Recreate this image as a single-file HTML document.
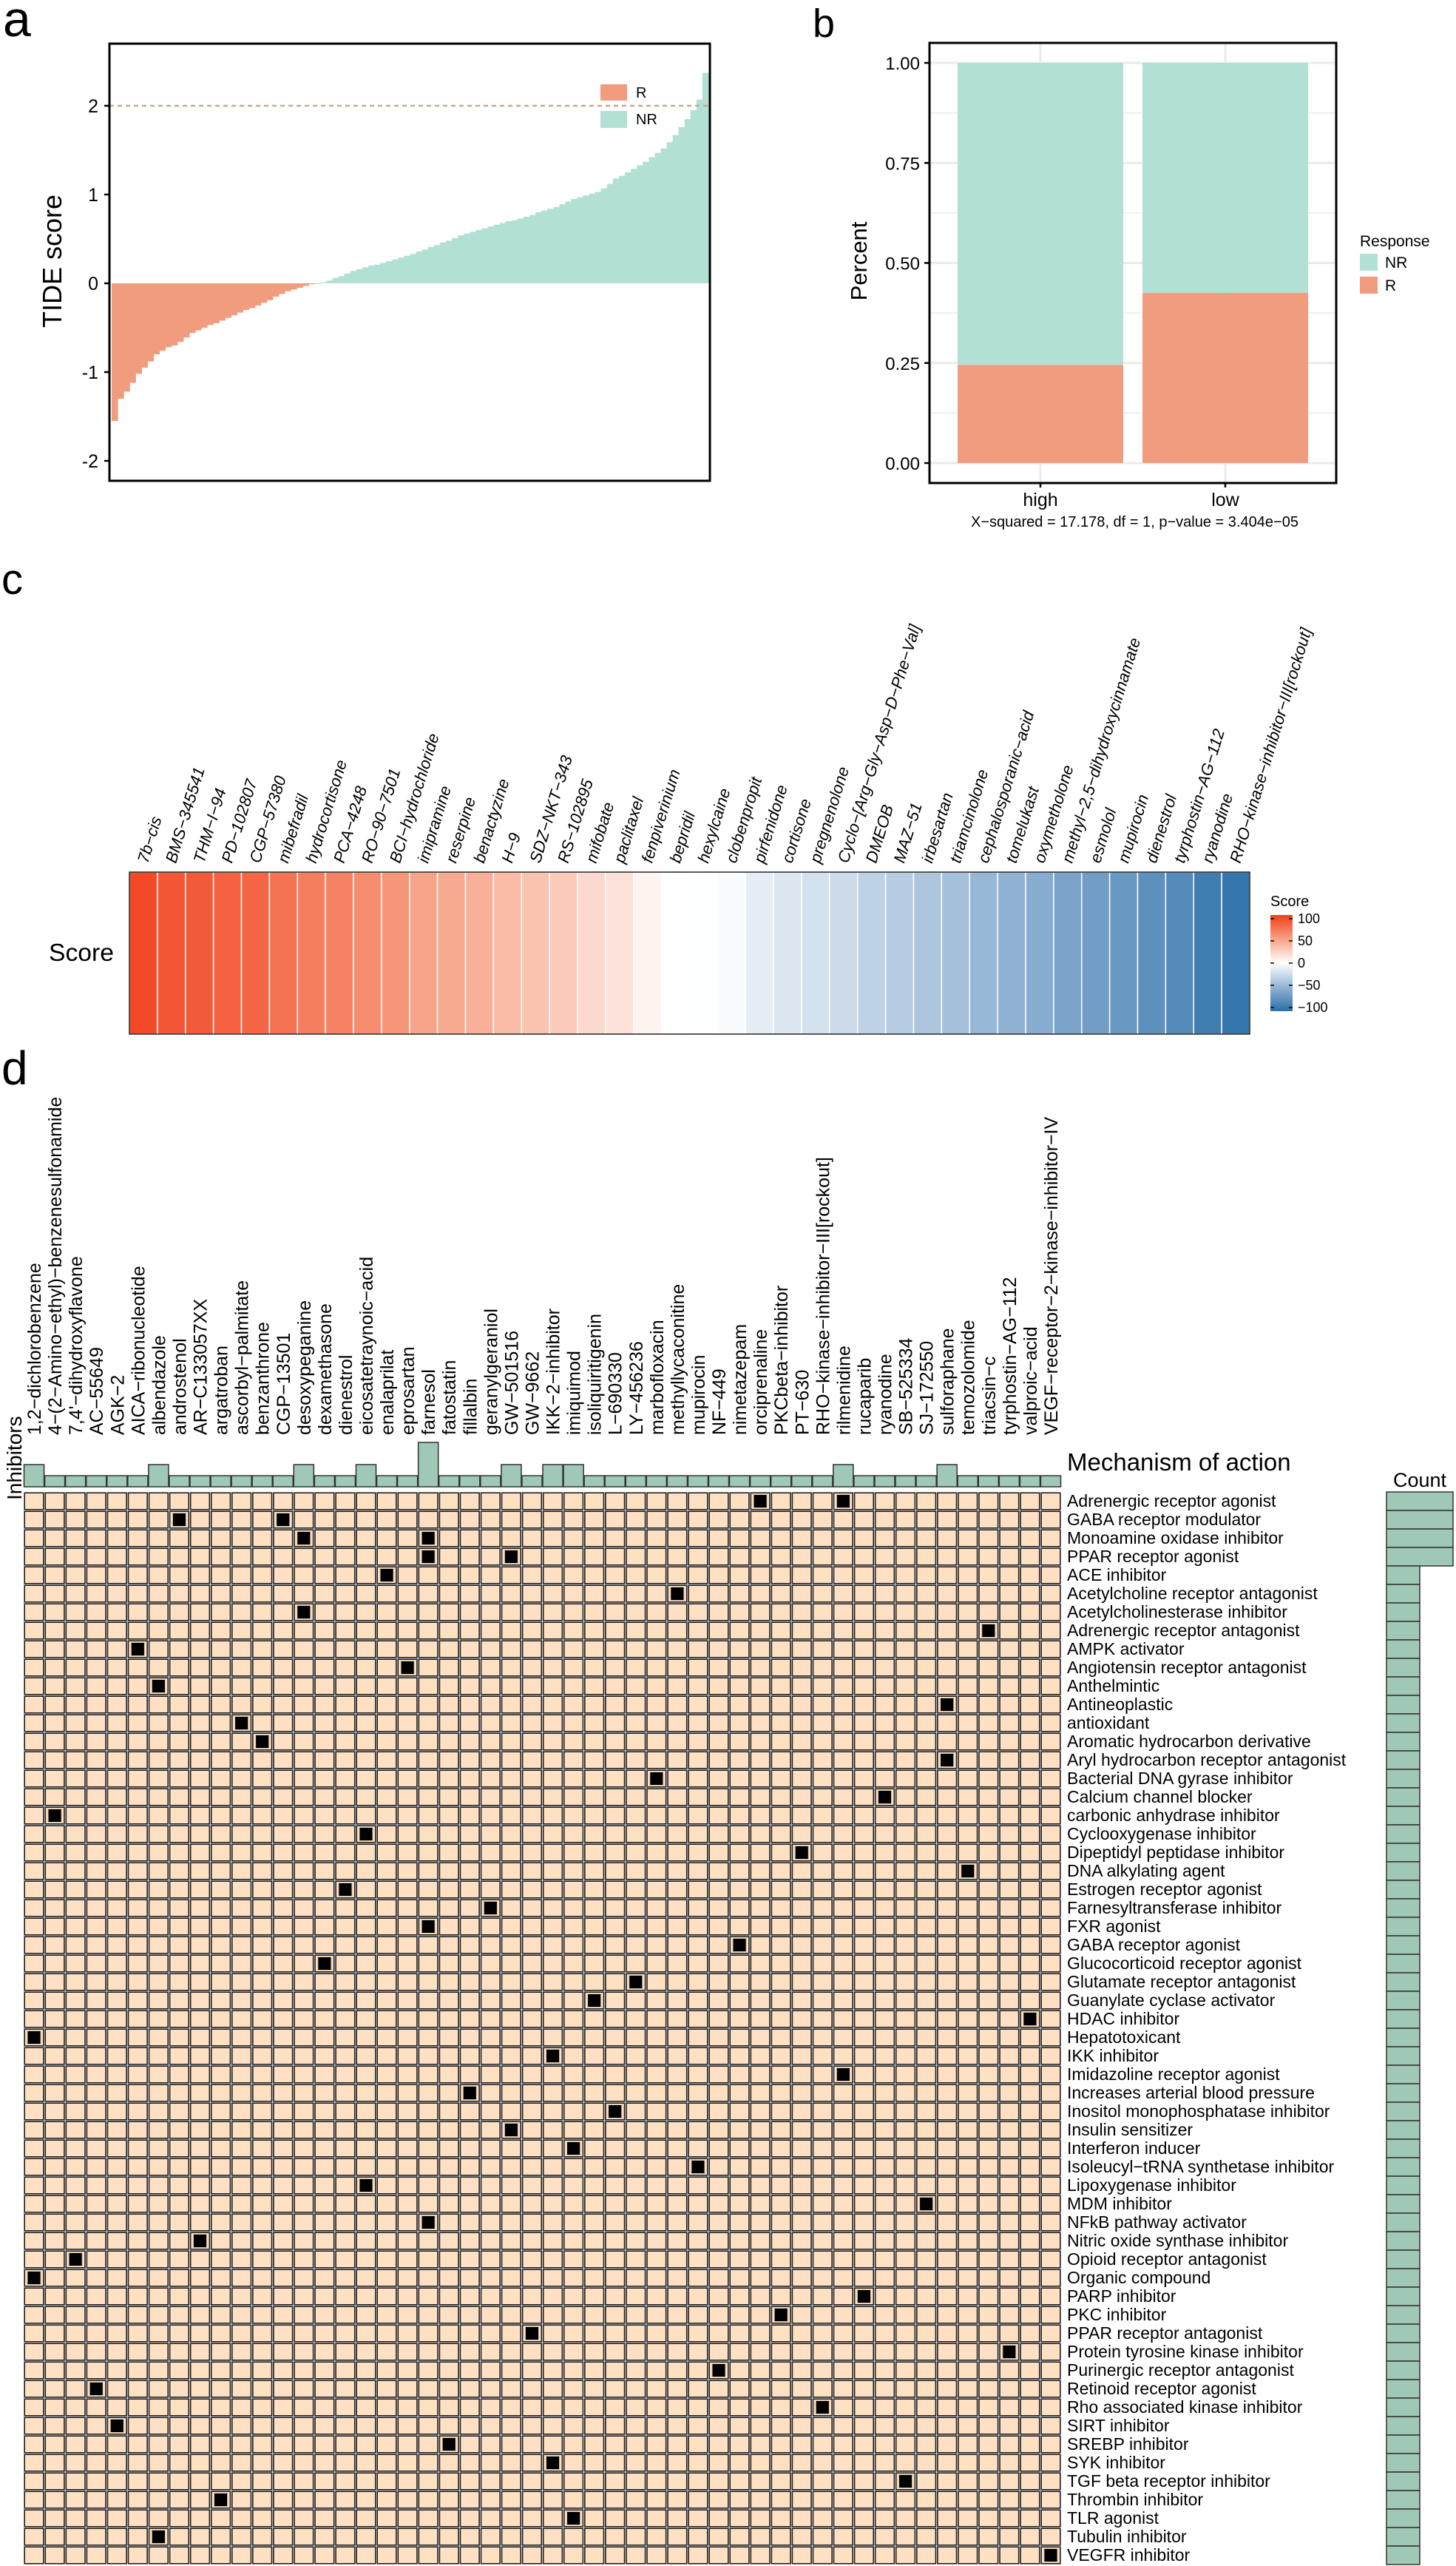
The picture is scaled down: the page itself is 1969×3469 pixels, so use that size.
<!DOCTYPE html>
<html>
<head>
<meta charset="utf-8">
<style>
body{margin:0;background:#fff}
svg{display:block;font-family:"Liberation Sans",Arial,sans-serif}
</style>
</head>
<body>
<svg id="fig" width="1969" height="3469" viewBox="0 0 1969 3469" xmlns="http://www.w3.org/2000/svg">
<rect width="1969" height="3469" fill="#ffffff"/>

<!-- Panel a -->
<g id="pa">
  <text x="4" y="49" font-size="68">a</text>
  <g id="pa-bars"></g>
  <g id="pa-ticks"></g>
  <line x1="148" x2="960" y1="143" y2="143" stroke="#C9A98B" stroke-width="2.5" stroke-dasharray="6,5"/>
  <rect x="148" y="59" width="812" height="591" fill="none" stroke="#000" stroke-width="3"/>
  <text transform="translate(83,353) rotate(-90)" text-anchor="middle" font-size="36">TIDE score</text>
  <g>
    <rect x="812" y="114" width="36" height="22" fill="#F19C7F"/>
    <text x="860" y="132" font-size="20">R</text>
    <rect x="812" y="150" width="36" height="23" fill="#B3E0D5"/>
    <text x="860" y="168" font-size="20">NR</text>
  </g>
</g>

<!-- Panel b -->
<g id="pb">
  <text x="1099" y="50" font-size="54">b</text>
  <g id="pb-grid"></g>
  <g id="pb-bars"></g>
  <g id="pb-ticks"></g>
  <rect x="1257" y="58" width="550" height="595" fill="none" stroke="#000" stroke-width="3"/>
  <text transform="translate(1172,353) rotate(-90)" text-anchor="middle" font-size="31">Percent</text>
  <text x="1313" y="712" font-size="20" textLength="443" lengthAdjust="spacingAndGlyphs">X−squared = 17.178, df = 1, p−value = 3.404e−05</text>
  <g>
    <text x="1839" y="333" font-size="21">Response</text>
    <rect x="1839" y="343" width="24" height="23" fill="#B3E0D5"/>
    <text x="1873" y="362" font-size="21">NR</text>
    <rect x="1839" y="374" width="24" height="23" fill="#F19C7F"/>
    <text x="1873" y="393" font-size="21">R</text>
  </g>
</g>

<!-- Panel c -->
<g id="pc">
  <text x="2" y="803" font-size="58">c</text>
  <g id="pc-labels"></g>
  <g id="pc-cells"></g>
  <rect x="175" y="1179" width="1515" height="219" fill="none" stroke="#222" stroke-width="1.5"/>
  <text x="66" y="1299" font-size="33" textLength="88" lengthAdjust="spacingAndGlyphs">Score</text>
  <g>
    <defs>
      <linearGradient id="cbg" x1="0" y1="0" x2="0" y2="1">
        <stop offset="0" stop-color="#F23F1C"/>
        <stop offset="0.25" stop-color="#F7A184"/>
        <stop offset="0.5" stop-color="#FFFFFF"/>
        <stop offset="0.75" stop-color="#93B4D4"/>
        <stop offset="1" stop-color="#2B6FA8"/>
      </linearGradient>
    </defs>
    <text x="1718" y="1225" font-size="20">Score</text>
    <rect x="1718" y="1237" width="30" height="130" fill="url(#cbg)"/>
    <g id="pc-cbticks"></g>
  </g>
</g>

<!-- Panel d -->
<g id="pd">
  <text x="2" y="1466" font-size="64">d</text>
  <text transform="translate(29,2028) rotate(-90)" font-size="28">Inhibitors</text>
  <g id="pd-collabels"></g>
  <g id="pd-annot"></g>
  <g id="pd-grid"></g>
  <g id="pd-rowlabels"></g>
  <g id="pd-count"></g>
  <text x="1443" y="1988" font-size="33">Mechanism of action</text>
  <text x="1920" y="2010" font-size="27" text-anchor="middle">Count</text>
</g>
</svg>

<script>
// ===== Panel a data =====
const tideScores = [-1.55,-1.30,-1.22,-1.12,-1.02,-0.95,-0.88,-0.80,-0.76,-0.72,
-0.70,-0.66,-0.61,-0.56,-0.53,-0.50,-0.47,-0.45,-0.42,-0.39,
-0.36,-0.33,-0.30,-0.28,-0.25,-0.22,-0.19,-0.15,-0.12,-0.09,
-0.07,-0.05,-0.03,-0.01,-0.005,0.01,0.03,0.06,0.08,0.11,
0.14,0.16,0.18,0.20,0.21,0.23,0.25,0.27,0.29,0.31,
0.33,0.36,0.38,0.41,0.43,0.46,0.48,0.51,0.54,0.56,
0.58,0.60,0.62,0.64,0.66,0.68,0.70,0.71,0.73,0.75,
0.77,0.80,0.82,0.84,0.86,0.89,0.92,0.95,0.97,0.99,
1.01,1.03,1.07,1.12,1.18,1.21,1.25,1.29,1.33,1.37,
1.42,1.47,1.52,1.59,1.67,1.76,1.85,1.95,2.07,2.37];
const tideTicks = [2,1,0,-1,-2];
const tideTickLabels = ["2","1","0","-1","-2"];

// ===== Panel b data =====
const groupCategories = ["high","low"];
const rFraction = [0.245,0.425];
const pctTicks = [0,0.25,0.5,0.75,1];
const pctTickLabels = ["0.00","0.25","0.50","0.75","1.00"];

// ===== Panel c data =====
const drugNames = ["7b−cis","BMS−345541","THM−I−94","PD−102807","CGP−57380","mibefradil","hydrocortisone","PCA−4248","RO−90−7501","BCI−hydrochloride","imipramine","reserpine","benactyzine","H−9","SDZ−NKT−343","RS−102895","mifobate","paclitaxel","fenpiverinium","bepridil","hexylcaine","clobenpropit","pirfenidone","cortisone","pregnenolone","Cyclo−[Arg−Gly−Asp−D−Phe−Val]","DMEOB","MAZ−51","irbesartan","triamcinolone","cephalosporanic−acid","tomelukast","oxymetholone","methyl−2,5−dihydroxycinnamate","esmolol","mupirocin","dienestrol","tyrphostin−AG−112","ryanodine","RHO−kinase−inhibitor−III[rockout]"];
const drugScores = [95,88,86,82,80,74,68,66,60,56,48,45,42,36,32,28,20,16,6,0,-1,-3,-12,-16,-20,-24,-30,-34,-38,-42,-48,-52,-56,-62,-66,-70,-76,-80,-90,-95];
const scoreTicks = [100,50,0,-50,-100];
const scoreTickLabels = ["100","50","0","−50","−100"];

// ===== Panel d data =====
const inhibitors = ["1,2−dichlorobenzene","4−(2−Amino−ethyl)−benzenesulfonamide","7,4'−dihydroxyflavone","AC−55649","AGK−2","AICA−ribonucleotide","albendazole","androstenol","AR−C133057XX","argatroban","ascorbyl−palmitate","benzanthrone","CGP−13501","desoxypeganine","dexamethasone","dienestrol","eicosatetraynoic−acid","enalaprilat","eprosartan","farnesol","fatostatin","fillalbin","geranylgeraniol","GW−501516","GW−9662","IKK−2−inhibitor","imiquimod","isoliquiritigenin","L−690330","LY−456236","marbofloxacin","methyllycaconitine","mupirocin","NF−449","nimetazepam","orciprenaline","PKCbeta−inhibitor","PT−630","RHO−kinase−inhibitor−III[rockout]","rilmenidine","rucaparib","ryanodine","SB−525334","SJ−172550","sulforaphane","temozolomide","triacsin−c","tyrphostin−AG−112","valproic−acid","VEGF−receptor−2−kinase−inhibitor−IV"];
const mechanisms = ["Adrenergic receptor agonist","GABA receptor modulator","Monoamine oxidase inhibitor","PPAR receptor agonist","ACE inhibitor","Acetylcholine receptor antagonist","Acetylcholinesterase inhibitor","Adrenergic receptor antagonist","AMPK activator","Angiotensin receptor antagonist","Anthelmintic","Antineoplastic","antioxidant","Aromatic hydrocarbon derivative","Aryl hydrocarbon receptor antagonist","Bacterial DNA gyrase inhibitor","Calcium channel blocker","carbonic anhydrase inhibitor","Cyclooxygenase inhibitor","Dipeptidyl peptidase inhibitor","DNA alkylating agent","Estrogen receptor agonist","Farnesyltransferase inhibitor","FXR agonist","GABA receptor agonist","Glucocorticoid receptor agonist","Glutamate receptor antagonist","Guanylate cyclase activator","HDAC inhibitor","Hepatotoxicant","IKK inhibitor","Imidazoline receptor agonist","Increases arterial blood pressure","Inositol monophosphatase inhibitor","Insulin sensitizer","Interferon inducer","Isoleucyl−tRNA synthetase inhibitor","Lipoxygenase inhibitor","MDM inhibitor","NFkB pathway activator","Nitric oxide synthase inhibitor","Opioid receptor antagonist","Organic compound","PARP inhibitor","PKC inhibitor","PPAR receptor antagonist","Protein tyrosine kinase inhibitor","Purinergic receptor antagonist","Retinoid receptor agonist","Rho associated kinase inhibitor","SIRT inhibitor","SREBP inhibitor","SYK inhibitor","TGF beta receptor inhibitor","Thrombin inhibitor","TLR agonist","Tubulin inhibitor","VEGFR inhibitor"];
const hitRow = [0,0,1,1,2,2,3,3,4,5,6,7,8,9,10,11,12,13,14,15,16,17,18,19,20,21,22,23,24,25,26,27,28,29,30,31,32,33,34,35,36,37,38,39,40,41,42,43,44,45,46,47,48,49,50,51,52,53,54,55,56,57];
const hitCol = [35,39,7,12,13,19,19,23,17,31,13,46,5,18,6,44,10,11,44,30,41,1,16,37,45,15,22,19,34,14,29,27,48,0,25,39,21,28,23,26,32,16,43,19,8,2,0,40,36,24,47,33,3,38,4,20,25,42,9,26,6,49];

const NS = "http://www.w3.org/2000/svg";
function mk(tag, attrs, parent){
  const e = document.createElementNS(NS, tag);
  for (const k in attrs) e.setAttribute(k, attrs[k]);
  if (parent) parent.appendChild(e);
  return e;
}
const $ = id => document.getElementById(id);

// ----- Panel a -----
const aX0 = 151, aX1 = 958;
const ya = v => 383 - v * 120;
const aBw = (aX1 - aX0) / tideScores.length;
tideScores.forEach((v, i) => {
  const y0 = ya(0), y1 = ya(v);
  const r = mk("rect", {x: aX0 + i * aBw, y: Math.min(y0, y1), width: aBw + 0.6, height: Math.abs(y1 - y0), fill: v < 0 ? "#F19C7F" : "#B3E0D5"}, $("pa-bars"));
  
  
});
tideTicks.forEach((t, i) => {
  const l = mk("line", {x1: 141, x2: 148, y1: ya(t), y2: ya(t), stroke: "#000", "stroke-width": 2.5}, $("pa-ticks"));
  
  
  const tx = mk("text", {x: 133, y: ya(t) + 9, "font-size": 25, "text-anchor": "end"}, $("pa-ticks"));
  tx.textContent = tideTickLabels[i];
  
  
});

// ----- Panel b -----
const yb = p => 626 - p * 541;
const bCenters = [1407, 1657];
const bW = 224;
[0.125,0.375,0.625,0.875].forEach(p => {
  const g = mk("line", {x1: 1258, x2: 1806, y1: yb(p), y2: yb(p), stroke: "#EBEBEB", "stroke-width": 1.5}, $("pb-grid"));
  
  
});
pctTicks.forEach(p => {
  const g = mk("line", {x1: 1258, x2: 1806, y1: yb(p), y2: yb(p), stroke: "#EBEBEB", "stroke-width": 3}, $("pb-grid"));
  
  
});
groupCategories.forEach((c, i) => {
  const g = mk("line", {x1: bCenters[i], x2: bCenters[i], y1: 59, y2: 652, stroke: "#EBEBEB", "stroke-width": 3}, $("pb-grid"));
  
  
  const nr = mk("rect", {x: bCenters[i] - bW / 2, y: yb(1), width: bW, height: yb(rFraction[i]) - yb(1), fill: "#B3E0D5"}, $("pb-bars"));
  
  
  const r = mk("rect", {x: bCenters[i] - bW / 2, y: yb(rFraction[i]), width: bW, height: yb(0) - yb(rFraction[i]), fill: "#F19C7F"}, $("pb-bars"));
  
  
  const tk = mk("line", {x1: bCenters[i], x2: bCenters[i], y1: 653, y2: 659, stroke: "#000", "stroke-width": 2.5}, $("pb-ticks"));
  
  
  const t = mk("text", {x: bCenters[i], y: 684, "font-size": 25, "text-anchor": "middle"}, $("pb-ticks"));
  t.textContent = c;
  
  
});
pctTicks.forEach((p, i) => {
  const l = mk("line", {x1: 1250, x2: 1257, y1: yb(p), y2: yb(p), stroke: "#000", "stroke-width": 2.5}, $("pb-ticks"));
  
  
  const t = mk("text", {x: 1244, y: yb(p) + 9, "font-size": 24, "text-anchor": "end"}, $("pb-ticks"));
  t.textContent = pctTickLabels[i];
  
  
});

// ----- Panel c -----
function lerp(a, b, t){ return a + (b - a) * t; }
function hex(c){ return [parseInt(c.slice(1,3),16), parseInt(c.slice(3,5),16), parseInt(c.slice(5,7),16)]; }
const stops = [[-100,"#2B6FA8"],[-50,"#93B4D4"],[0,"#FFFFFF"],[50,"#F7A184"],[100,"#F23F1C"]];
function scoreColor(v){
  v = Math.max(-100, Math.min(100, v));
  for (let i = 0; i < stops.length - 1; i++){
    if (v <= stops[i+1][0]){
      const t = (v - stops[i][0]) / (stops[i+1][0] - stops[i][0]);
      const a = hex(stops[i][1]), b = hex(stops[i+1][1]);
      return "rgb(" + [0,1,2].map(k => Math.round(lerp(a[k], b[k], t))).join(",") + ")";
    }
  }
  return stops[stops.length-1][1];
}
const cX0 = 175, cW = 1515 / drugNames.length;
drugNames.forEach((n, i) => {
  const r = mk("rect", {x: cX0 + i * cW, y: 1179, width: cW, height: 219, fill: scoreColor(drugScores[i]), stroke: "#ffffff", "stroke-width": 1.5}, $("pc-cells"));
  
  
  const cx = cX0 + (i + 0.5) * cW + 6;
  const t = mk("text", {x: 0, y: 0, "font-size": 22, "font-style": "italic", transform: "translate(" + cx + ",1168) rotate(-73)"}, $("pc-labels"));
  t.textContent = n;
  
  
});
const ycb = v => 1302 - v * 0.6;
scoreTicks.forEach((v, i) => {
  const l1 = mk("line", {x1: 1718, x2: 1723, y1: ycb(v), y2: ycb(v), stroke: "#000", "stroke-width": 1.5}, $("pc-cbticks"));
  
  
  const l2 = mk("line", {x1: 1743, x2: 1748, y1: ycb(v), y2: ycb(v), stroke: "#000", "stroke-width": 1.5}, $("pc-cbticks"));
  
  
  const t = mk("text", {x: 1755, y: ycb(v) + 6, "font-size": 18}, $("pc-cbticks"));
  t.textContent = scoreTickLabels[i];
  
  
});

// ----- Panel d -----
const gx0 = 32, gcw = 1403 / inhibitors.length, gy0 = 2017, grh = 25;
const colCount = inhibitors.map(() => 0);
const rowCount = mechanisms.map(() => 0);
const hitSet = new Set();
hitRow.forEach((r, k) => { colCount[hitCol[k]]++; rowCount[r]++; hitSet.add(r + "_" + hitCol[k]); });

inhibitors.forEach((n, j) => {
  const x = gx0 + j * gcw;
  const t = mk("text", {x: 0, y: 0, "font-size": 25, transform: "translate(" + (x + gcw / 2 + 9) + ",1940) rotate(-90)"}, $("pd-collabels"));
  t.textContent = n;
  
  
  const h = colCount[j] * 15;
  const b = mk("rect", {x: x + 0.5, y: 2010 - h, width: gcw - 1, height: h, fill: "#9FC8B6", stroke: "#333", "stroke-width": 1.5}, $("pd-annot"));
  
  
});

const gridG = $("pd-grid");
mechanisms.forEach((m, i) => {
  const y = gy0 + i * grh;
  for (let j = 0; j < inhibitors.length; j++){
    const x = gx0 + j * gcw;
    const c = mk("rect", {x: x + 1.2, y: y + 1.2, width: gcw - 2.4, height: grh - 2.4, fill: "#FFE0C2", stroke: "#1e1e1e", "stroke-width": 1.6}, gridG);
    
    
    if (hitSet.has(i + "_" + j)){
      const hb = mk("rect", {x: x + 5, y: y + 3.5, width: gcw - 10, height: grh - 7, fill: "#000", stroke: "#d9c3a8", "stroke-width": 1}, gridG);
      
      
    }
  }
  const t = mk("text", {x: 1443, y: y + 20, "font-size": 23}, $("pd-rowlabels"));
  t.textContent = m;
  
  
  const cb = mk("rect", {x: 1875, y: y, width: rowCount[i] * 45, height: grh, fill: "#9FC8B6", stroke: "#333", "stroke-width": 1.5}, $("pd-count"));
  
  
});
</script>
</body>
</html>
